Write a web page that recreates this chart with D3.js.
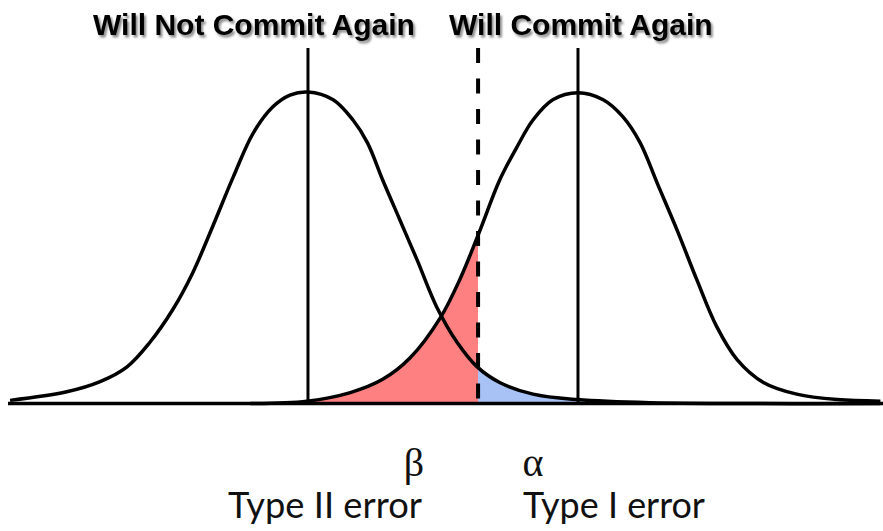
<!DOCTYPE html>
<html>
<head>
<meta charset="utf-8">
<script src="https://cdn.jsdelivr.net/npm/d3@7"></script>
<style>
  html, body { margin: 0; padding: 0; background: #fff; }
  svg { display: block; }
</style>
</head>
<body>
<svg id="chart" width="883" height="531"></svg>
<script>
// ---- Data ----
// x in standard-deviation units of the left distribution; y is density
const titles = ["Will Not Commit Again", "Will Commit Again"];
const means = [0, 3];
const threshold = 1.89;

const leftX = [-3.31, -2.68, -2.31, -2.01, -1.76, -1.50, -1.28, -1.06, -0.83, -0.61, -0.39, -0.20, 0.00,
               0.28, 0.50, 0.66, 0.83, 1.02, 1.21, 1.43, 1.66, 1.88, 2.13, 2.50, 2.99, 3.80, 6.36];
const leftY = [0.004, 0.015, 0.028, 0.047, 0.078, 0.121, 0.168, 0.227, 0.291, 0.347, 0.381, 0.396, 0.400,
               0.390, 0.364, 0.335, 0.287, 0.236, 0.185, 0.124, 0.078, 0.047, 0.027, 0.012, 0.005, 0.001, 0.000];

const rightX = [-0.64, -0.01, 0.47, 0.83, 1.13, 1.47, 1.69, 1.91, 2.13, 2.32, 2.50, 2.72, 3.00,
                3.28, 3.50, 3.69, 3.88, 4.10, 4.32, 4.54, 4.77, 5.06, 5.43, 5.88, 6.36];
const rightY = [0.000, 0.003, 0.014, 0.031, 0.058, 0.110, 0.160, 0.222, 0.287, 0.329, 0.364, 0.390, 0.399,
                0.390, 0.368, 0.335, 0.283, 0.223, 0.159, 0.099, 0.056, 0.027, 0.012, 0.005, 0.003];

const errorSymbols = ["β", "α"];
const errorLabels = ["Type II error", "Type I error"];

// ---- Layout ----
const svg = d3.select("#chart");
const x = d3.scaleLinear().domain([-3.333, 6.389]).range([8, 883]);
const y = d3.scaleLinear().domain([0, 0.4]).range([403.5, 92]);
const lineTop = 48;

const leftData = leftX.map((v, i) => ({ x: v, y: leftY[i] }));
const rightData = rightX.map((v, i) => ({ x: v, y: rightY[i] }));

const curve = d3.curveCatmullRom.alpha(0.5);
const line = d3.line().x(d => x(d.x)).y(d => y(d.y)).curve(curve);
const area = d3.area().x(d => x(d.x)).y0(y(0)).y1(d => y(d.y)).curve(curve);

const defs = svg.append("defs");
defs.append("clipPath").attr("id", "clipLeftOfT")
  .append("rect").attr("x", 0).attr("y", 0).attr("width", x(threshold)).attr("height", 531);
defs.append("clipPath").attr("id", "clipRightOfT")
  .append("rect").attr("x", x(threshold)).attr("y", 0).attr("width", 883 - x(threshold)).attr("height", 531);
const shadow = defs.append("filter").attr("id", "shadow")
  .attr("x", "-10%").attr("y", "-30%").attr("width", "120%").attr("height", "160%");
shadow.append("feDropShadow").attr("dx", 2).attr("dy", 2.5).attr("stdDeviation", 1.2)
  .attr("flood-color", "#000").attr("flood-opacity", 0.45);

// Fills: beta under right curve left of threshold, alpha under left curve right of threshold
svg.append("path").datum(rightData).attr("d", area)
  .attr("fill", "#ff8080").attr("clip-path", "url(#clipLeftOfT)");
svg.append("path").datum(leftData).attr("d", area)
  .attr("fill", "#a8c2f5").attr("clip-path", "url(#clipRightOfT)");

// Baseline
svg.append("line")
  .attr("x1", x.range()[0]).attr("x2", x.range()[1])
  .attr("y1", y(0)).attr("y2", y(0))
  .attr("stroke", "#000").attr("stroke-width", 3.5);

// Curves
[leftData, rightData].forEach(d => {
  svg.append("path").datum(d).attr("d", line)
    .attr("fill", "none").attr("stroke", "#000").attr("stroke-width", 3.5)
    .attr("stroke-linejoin", "round");
});

// Mean lines
svg.selectAll("line.mean").data(means).join("line")
  .attr("class", "mean")
  .attr("x1", d => x(d)).attr("x2", d => x(d))
  .attr("y1", lineTop).attr("y2", y(0))
  .attr("stroke", "#000").attr("stroke-width", 3);

// Threshold dashed line
svg.append("line")
  .attr("x1", x(threshold)).attr("x2", x(threshold))
  .attr("y1", lineTop).attr("y2", y(0))
  .attr("stroke", "#000").attr("stroke-width", 4)
  .attr("stroke-dasharray", "15,15.5");

// Titles
const titleX = [93, 449];
svg.selectAll("text.title").data(titles).join("text")
  .attr("class", "title")
  .attr("x", (d, i) => titleX[i]).attr("y", 35)
  .attr("font-family", "'Liberation Sans', Arial, sans-serif")
  .attr("font-weight", "bold").attr("font-size", 30)
  .attr("fill", "#000").attr("filter", "url(#shadow)")
  .text(d => d);

// Error symbols and labels
const symX = [414, 533];
svg.selectAll("text.sym").data(errorSymbols).join("text")
  .attr("class", "sym")
  .attr("x", (d, i) => symX[i]).attr("y", 476)
  .attr("text-anchor", "middle")
  .attr("font-family", "'Liberation Serif', 'Times New Roman', serif")
  .attr("font-size", 40).attr("fill", "#111")
  .text(d => d);

const labX = [228, 523];
const labW = [194, 182];
svg.selectAll("text.lab").data(errorLabels).join("text")
  .attr("class", "lab")
  .attr("x", (d, i) => labX[i]).attr("y", 518)
  .attr("font-family", "Lato, 'Open Sans', sans-serif")
  .attr("font-size", 33).attr("fill", "#111")
  .text(d => d)
  .each(function(d, i) {
    const w = this.getComputedTextLength();
    if (w > 0) d3.select(this).attr("font-size", 33 * labW[i] / w);
  });
</script>
</body>
</html>
